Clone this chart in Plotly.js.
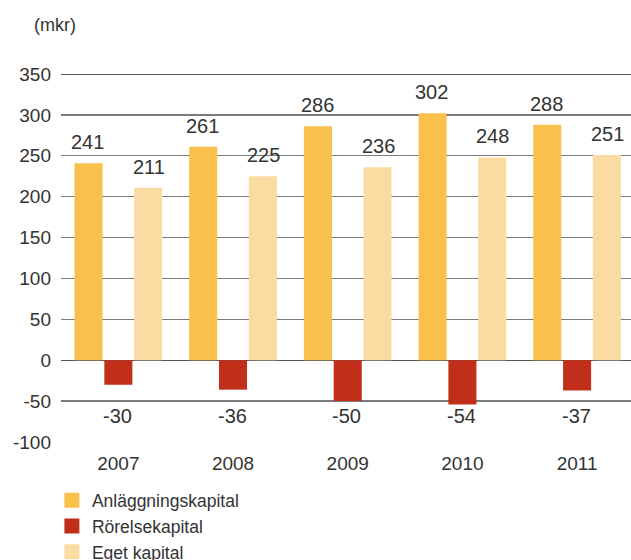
<!DOCTYPE html>
<html>
<head>
<meta charset="utf-8">
<script src="https://cdn.plot.ly/plotly-3.0.1.min.js"></script>
<style>html,body{margin:0;padding:0;background:#fff;overflow:hidden}</style>
</head>
<body>
<div id="chart" style="width:631px;height:560px"></div>
<script>
const years = ['2007', '2008', '2009', '2010', '2011'];
const anlaggning = [241, 261, 286, 302, 288];
const rorelse = [-30, -36, -50, -54, -37];
const eget = [211, 225, 236, 248, 251];
const seriesNames = ['Anläggningskapital', 'Rörelsekapital', 'Eget kapital'];
const colors = ['#F9C04C', '#C12E1A', '#FADCA2'];
const yTicks = [-100, -50, 0, 50, 100, 150, 200, 250, 300, 350];
const yTickText = ['-100', '-50', '0', '50', '100', '150', '200', '250', '300', '350'];

const font = 'Liberation Sans, Arial, sans-serif';
const txt = '#333333';

const series = [anlaggning, rorelse, eget];
const traces = series.map((vals, i) => ({
  type: 'bar', x: years, y: vals, name: seriesNames[i],
  marker: {color: colors[i]}, hoverinfo: 'x+y', showlegend: false
}));
// legend entries with larger square symbols
seriesNames.forEach((n, i) => traces.push({
  type: 'scatter', mode: 'markers', x: [null], y: [null], name: n,
  marker: {symbol: 'square', size: 15, color: colors[i]}, showlegend: true
}));

const shifts = [-30.5, 0, 30.5];
const annotations = [];
series.forEach((vals, i) => {
  vals.forEach((v, j) => {
    if (v >= 0) {
      annotations.push({x: j, y: v, xref: 'x', yref: 'y', text: String(v),
        showarrow: false, xshift: shifts[i], yshift: 21, yanchor: 'middle',
        font: {family: font, size: 20, color: txt}});
    } else {
      annotations.push({x: j, y: -68, xref: 'x', yref: 'y', text: String(v),
        showarrow: false, xshift: shifts[i] - 1, yanchor: 'middle',
        font: {family: font, size: 20, color: txt}});
    }
  });
});
annotations.push({x: 0, xref: 'paper', xanchor: 'left', xshift: -29, y: 1, yref: 'paper',
  yanchor: 'middle', yshift: 49, text: '(mkr)', showarrow: false,
  font: {family: font, size: 18, color: txt}});

const layout = {
  width: 631, height: 560,
  margin: {l: 61, r: 0, t: 74, b: 118, autoexpand: false},
  paper_bgcolor: '#fff', plot_bgcolor: '#fff',
  barmode: 'group', bargap: 0.22, bargroupgap: 0.06,
  showlegend: true,
  legend: {orientation: 'v', xanchor: 'left', yanchor: 'top', xref: 'paper', yref: 'paper',
    x: -0.016, y: -0.11, font: {family: font, size: 17.5, color: txt}, itemwidth: 30,
    tracegroupgap: 0, bgcolor: 'rgba(0,0,0,0)'},
  xaxis: {type: 'category', range: [-0.5, 4.47], showgrid: false, zeroline: false, showline: false,
    ticks: '', ticklabelstandoff: 8, tickfont: {family: font, size: 19, color: txt}, fixedrange: true},
  yaxis: {range: [-100, 350], tickvals: yTicks, ticktext: yTickText, showgrid: true, gridcolor: '#7a7a7a', gridwidth: 1.3,
    zeroline: true, zerolinecolor: '#555', zerolinewidth: 1.3, showline: false, ticks: '',
    ticklabelstandoff: 9,
    tickfont: {family: font, size: 19, color: txt}, fixedrange: true},
  shapes: [{type: 'line', xref: 'paper', yref: 'y', x0: 0, x1: 1, y0: 350, y1: 350,
    line: {color: '#222', width: 1.3}}],
  annotations: annotations
};

Plotly.newPlot('chart', traces, layout, {displayModeBar: false, staticPlot: true});
</script>
</body>
</html>
